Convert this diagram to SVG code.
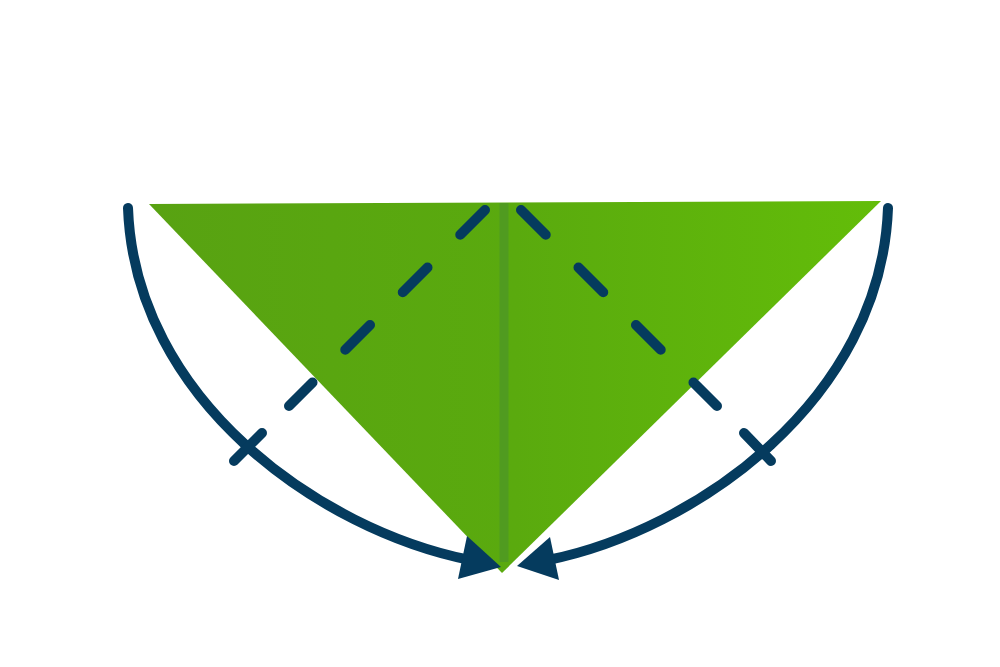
<svg xmlns="http://www.w3.org/2000/svg" width="1000" height="667" viewBox="0 0 1000 667">
<style>
.ln{fill:none;stroke:#053b5e;stroke-width:10;stroke-linecap:round}
.dash{fill:none;stroke:#053b5e;stroke-width:10;stroke-linecap:round;stroke-dasharray:35 46.3}
.ah{fill:#053b5e}
</style>
<defs>
<linearGradient id="g" x1="0" y1="0" x2="1" y2="0">
<stop offset="0" stop-color="#58a212"/>
<stop offset="0.5" stop-color="#5aaa0e"/>
<stop offset="1" stop-color="#63bd09"/>
</linearGradient>
</defs>
<rect width="1000" height="667" fill="#ffffff"/>
<g id="paper">
<polygon points="149,204 881,201 502,573" fill="url(#g)"/>
<line x1="504" y1="203" x2="504" y2="562" stroke="#4f9a22" stroke-width="9" opacity="0.9"/>
</g>
<g id="folds">
<line class="dash" x1="485" y1="210" x2="289" y2="406"/>
<line class="dash" x1="521" y1="210" x2="717" y2="406"/>
</g>
<g id="connectors">
<path class="ln" d="M128,208 C135,400 320,530 470,560"/>
<path class="ln" d="M888,208 C881,400 696,530 548,560"/>
<line class="ln" x1="234" y1="461" x2="262" y2="433"/>
<line class="ln" x1="744" y1="433" x2="771" y2="461"/>
<polygon class="ah" points="501,567 467,536 458,579"/>
<polygon class="ah" points="517,566 550,537 559,580"/>
</g>
</svg>
